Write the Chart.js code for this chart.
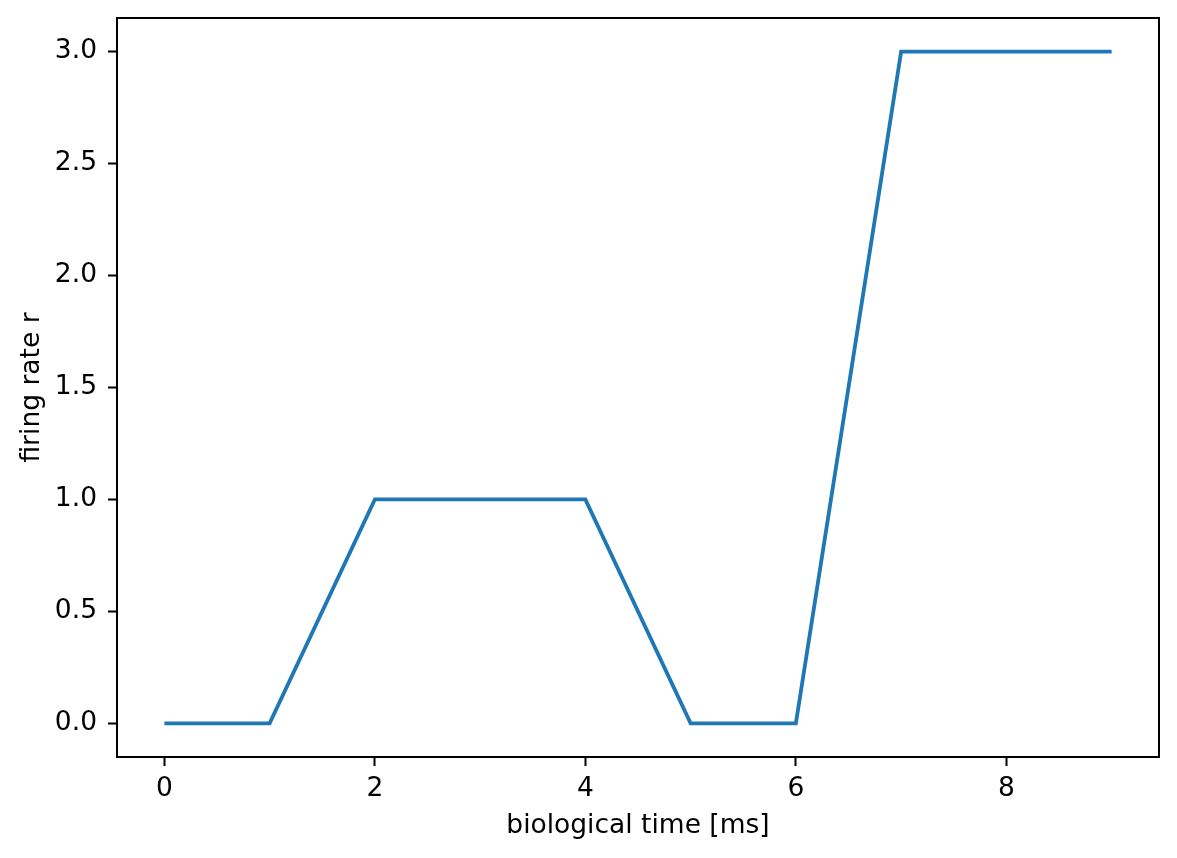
<!DOCTYPE html>
<html lang="en">
<head>
    <meta charset="UTF-8">
    <title>Firing rate</title>
    <script src="https://cdn.jsdelivr.net/npm/chart.js"></script>
    <style>
        * { margin: 0; padding: 0; box-sizing: border-box; }
        body { background: #fff; width: 1177px; height: 858px; overflow: hidden; }
    </style>
</head>
<body>
    <canvas id="rateChart" width="1177" height="858"></canvas>

    <script>
        // values
        const times = [0, 1, 2, 3, 4, 5, 6, 7, 8, 9];
        const rates = [0, 0, 1, 1, 1, 0, 0, 3, 3, 3];
        const xTicks = [0, 2, 4, 6, 8];
        const yTicks = [0, 0.5, 1, 1.5, 2, 2.5, 3];

        const font = { family: 'DejaVu Sans', size: 26.5 };

        // black box round the plot area, like matplotlib's spines
        const frame = {
            id: 'frame',
            afterDraw(chart) {
                const { ctx, chartArea: a } = chart;
                ctx.save();
                ctx.strokeStyle = '#000';
                ctx.lineWidth = 2;
                ctx.strokeRect(a.left, a.top, a.right - a.left, a.bottom - a.top);
                ctx.restore();
            }
        };

        new Chart(document.getElementById('rateChart'), {
            type: 'line',
            data: {
                datasets: [{
                    data: times.map((t, i) => ({ x: t, y: rates[i] })),
                    borderColor: '#1f77b4',
                    borderWidth: 3.8,
                    pointRadius: 0,
                    tension: 0,
                    fill: false
                }]
            },
            options: {
                responsive: false,
                animation: false,
                devicePixelRatio: 1,
                layout: { padding: { top: 18, right: 18, left: 0, bottom: 0 } },
                plugins: { legend: { display: false }, tooltip: { enabled: false } },
                scales: {
                    x: {
                        type: 'linear',
                        min: -0.45,
                        max: 9.45,
                        afterBuildTicks: s => { s.ticks = xTicks.map(v => ({ value: v })); },
                        afterFit: s => { s.height = 101; s.paddingLeft = 0; s.paddingRight = 0; },
                        grid: { drawOnChartArea: false, tickLength: 9, tickWidth: 2, tickColor: '#000' },
                        border: { display: false },
                        ticks: { color: '#000', font: font, padding: 7, maxRotation: 0 },
                        title: { display: true, text: 'biological time [ms]', color: '#000', font: font, padding: { top: 0, bottom: 16 } }
                    },
                    y: {
                        min: -0.15,
                        max: 3.15,
                        afterBuildTicks: s => { s.ticks = yTicks.map(v => ({ value: v })); },
                        afterFit: s => { s.width = 117; s.paddingTop = 0; s.paddingBottom = 0; },
                        grid: { drawOnChartArea: false, tickLength: 9, tickWidth: 2, tickColor: '#000' },
                        border: { display: false },
                        ticks: { color: '#000', font: font, padding: 11, callback: v => v.toFixed(1) },
                        title: { display: true, text: 'firing rate r', color: '#000', font: font, padding: { top: 16, bottom: 0 } }
                    }
                }
            },
            plugins: [frame]
        });
    </script>
</body>
</html>
